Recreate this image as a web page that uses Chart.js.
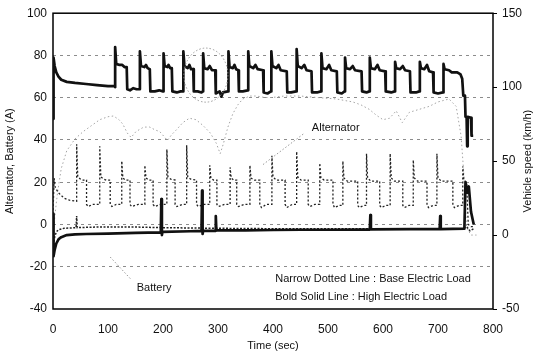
<!DOCTYPE html>
<html>
<head>
<meta charset="utf-8">
<script src="https://cdn.jsdelivr.net/npm/chart.js@4.4.1/dist/chart.umd.min.js"></script>
<style>
  html, body { margin: 0; padding: 0; background: #fff; }
  #wrap { width: 535px; height: 356px; }
</style>
</head>
<body>
<div id="wrap"><canvas id="chart" width="535" height="356"></canvas></div>
<script>
// time in sec, values in A (left axis) or km/h (right axis)

// alternator, high electric load (bold solid)
const altHigh = [
  [0,50],[1,79],[3,75],[6,72],[10,70],[15,68.5],[25,67.5],[40,67],[60,66.5],[80,66],[100,65.5],[112,65.5],
  [113,65],[113,84],[115,76],[121,75.5],[126,75.5],[130,74.5],[134,74.5],[135,64],[140,63.5],[146,64.5],[152,64],[157,64],
  [158,64],[158,82],[160,75],[166,74.5],[169,75.5],[172,74],[176,73.5],[177,63],[185,63],[193,63.5],[200,63],
  [201,63],[201,81],[203,75],[208,74.5],[210,75.5],[213,74],[216,74],[217,63],[225,62.5],[232,63],[236,63],
  [237,63],[237,82],[239,75],[245,74],[248,75.5],[251,73.5],[255,73.5],[256,63],[263,63],[270,62.5],[272,63],
  [273,63],[273,81],[275,74],[281,73.5],[285,75],[289,73],[295,73],[296,62],[303,63],[306,60.5],[309,62.5],[318,63],
  [319,63],[319,82],[321,74.5],[327,74],[330,75.5],[333,73.5],[337,73],[338,63],[345,63],[354,63.5],
  [355,63.5],[355,82],[357,75],[364,74],[368,75.5],[372,73.5],[382,73],[383,62.5],[390,62],[396,63],
  [397,63],[397,82],[399,75],[406,74],[410,75.5],[414,73],[425,72.5],[426,62.5],[433,62.5],[442,63],
  [443,63],[443,83],[445,75],[452,74],[457,75.5],[461,73],[470,72.5],[471,62.5],[480,62.5],[487,63],
  [488,63],[488,81],[490,74],[497,73.5],[502,75.5],[506,73],[516,72.5],[517,62.5],[525,62],[530,63],
  [531,63],[531,79],[533,74],[540,73.5],[545,75],[549,73],[561,72.5],[562,63],[570,62.5],[575,63],
  [576,63],[576,79],[578,74],[585,73.5],[590,75.5],[594,73],[604,72.5],[605,63],[615,62.5],[621,63],
  [622,63],[622,77],[624,74],[631,73.5],[636,75],[640,73],[649,72.5],[650,62.5],[660,62.5],[666,63],
  [667,63],[667,77],[669,74],[675,73.5],[680,75.5],[684,72.5],[691,72],[692,62.5],[700,62],[709,62.5],
  [710,62.5],[710,76],[712,73.5],[720,73],[725,72],[735,72],[741,71],[744,69],[746,61],[749,61],
  [750,51],[752,51],[753,37],[754,51],[760,50.5],[761,42],[764,42]
];

// alternator, base electric load (narrow dotted)
const altBase = [
  [0,5],[2,22],[4,17.5],[10,15],[20,12.5],[30,11.5],[42,11],
  [43,11],[43,38],[45,22.5],[50,21.5],[55,21],[61,21],[61,9.5],[64,8.5],[72,9.5],[84,9.5],
  [85,9.5],[85,37],[87,22.5],[92,21.5],[97,21],[104,21],[104,9.5],[107,8.5],[115,9.5],[124,9.5],
  [125,9.5],[125,30],[127,22],[132,21],[140,21],[140,9.5],[143,8.5],[155,9.5],[166,9.5],
  [167,9.5],[167,28],[169,22],[174,21],[182,21],[182,9.5],[185,8.5],[195,9.5],[206,9.5],
  [207,9.5],[207,35.5],[209,22.5],[214,21.5],[222,21],[222,9.5],[225,8.5],[235,9.5],[242,9.5],
  [243,9.5],[243,37.5],[245,22.5],[250,21.5],[261,21],[261,9.5],[264,8.5],[275,9.5],[284,9.5],
  [285,9.5],[285,28],[287,22],[292,21],[298,21],[298,9.5],[301,8.5],[312,9.5],[321,9.5],
  [322,9.5],[322,27],[324,22],[329,21],[334,21],[334,9.5],[337,8.5],[348,9.5],[357,9.5],
  [358,9.5],[358,28],[360,22],[366,21],[376,21],[376,9.5],[379,8],[388,9.5],[397,9.5],
  [398,9.5],[398,32.5],[400,22.5],[406,21],[422,21],[422,9.5],[425,8],[435,9.5],[442,9.5],
  [443,9.5],[443,34.5],[445,22.5],[451,21],[464,21],[464,9.5],[467,8.5],[476,9.5],[484,9.5],
  [485,9.5],[485,29],[487,22],[493,21],[509,21],[509,9.5],[512,8],[520,9],[526,9],
  [527,9],[527,30],[529,22],[535,20.5],[554,20.5],[554,9],[557,8],[565,9],[569,9],
  [570,9],[570,33.5],[572,22],[578,20.5],[594,20.5],[594,9],[597,8],[605,9],[612,9],
  [613,9],[613,33.5],[615,22],[621,20.5],[636,20.5],[636,9],[639,8],[647,9],[654,9],
  [655,9],[655,30.5],[657,22],[663,20.5],[680,20.5],[680,9],[683,8],[691,9],[697,9],
  [698,9],[698,33.5],[700,22],[706,20.5],[727,20.5],[727,9],[730,8],[738,9],[744,9],
  [745,9],[745,27.5],[747,21],[752,20],[755,0],[760,-1],[765,-1]
];

// battery, high electric load (bold solid)
const batHigh = [
  [0,5],[1,-15],[3,-12],[6,-9],[10,-7],[15,-6],[25,-5],[40,-4.7],[60,-4.5],[100,-4.3],[150,-4],
  [196,-3.7],[197,12],[198,-5],[199,-3.5],[250,-3.2],[270,-3],[271,16],[272,-4.5],[273,-3],
  [295,-3],[296,4],[297,-2.8],[350,-2.8],[400,-2.6],[450,-2.5],[500,-2.5],[560,-2.4],[576,-2.4],
  [577,4.5],[578,-2.3],[650,-2.2],[703,-2.2],[704,4],[705,-2.2],[748,-2],[750,20],[753,15],
  [756,18],[760,6],[765,0]
];

// battery, base electric load (narrow dotted)
const batBase = [
  [0,3],[1,-10],[3,-6],[6,-3.5],[10,-2.5],[20,-1.8],[42,-1.5],[43,4],[44,-1.5],[80,-1.2],
  [150,-1.2],[200,-1.5],[300,-1.8],[400,-2],[500,-2],[600,-2],[700,-2],[745,-2],[752,-1],
  [758,-3],[765,-2]
];

// vehicle speed, km/h (right axis)
const speed = [
  [0,0],[4,15],[8,28],[15,45],[25,57],[40,65],[55,70],[70,74],[85,78],[100,80],[110,80.5],
  [120,78],[127,75],[135,69],[142,66],[151,70],[165,73],[176,73],[186,71],[194,70],[208,64],
  [216,68],[224,71],[236,76],[248,79],[260,78],[273,74],[286,69],[297,62],[304,55],[310,62],
  [318,73],[327,82],[336,88],[345,92],[358,94],[370,94],[385,93],[398,93],[420,94],[450,94],
  [480,93],[515,92],[545,90],[560,88],[575,85],[588,81],[600,78],[612,79],[624,84],[635,76],
  [648,83],[666,85],[684,87],[700,90],[720,92],[733,87],[742,67],[747,41],[752,5],[760,0],[770,0]
];

const leftTicks = [-40, -20, 0, 20, 40, 60, 80, 100];
const rightTicks = [-50, 0, 50, 100, 150];
const timeTicks = [0, 100, 200, 300, 400, 500, 600, 700, 800];

const noteLines = ['Narrow Dotted Line : Base Electric Load', 'Bold Solid Line : High Electric Load'];

const toXY = arr => arr.map(p => ({ x: p[0], y: p[1] }));

Chart.defaults.font.family = "'Liberation Sans', Arial, sans-serif";
Chart.defaults.font.size = 12;
Chart.defaults.color = '#111';

// frame, annotations, right title
const extras = {
  id: 'extras',
  beforeDatasetsDraw(chart) {
    const { ctx, chartArea: a } = chart;
    ctx.save();
    ctx.strokeStyle = '#000';
    ctx.lineWidth = 1.5;
    ctx.strokeRect(a.left, a.top, a.right - a.left, a.bottom - a.top);
    ctx.restore();
  },
  afterDraw(chart) {
    const { ctx, chartArea: a } = chart;
    const x = chart.scales.x, y = chart.scales.y;
    ctx.save();
    // circled region
    ctx.strokeStyle = '#999';
    ctx.lineWidth = 1;
    ctx.setLineDash([1.5, 2]);
    const cx = x.getPixelForValue(278), cy = y.getPixelForValue(70.7);
    const rx = x.getPixelForValue(318) - cx, ry = cy - y.getPixelForValue(83.5);
    ctx.beginPath();
    ctx.ellipse(cx, cy, rx, ry, 0, 0, Math.PI * 2);
    ctx.stroke();
    // pointer lines
    ctx.beginPath();
    ctx.moveTo(x.getPixelForValue(104), y.getPixelForValue(-15.4));
    ctx.lineTo(x.getPixelForValue(143), y.getPixelForValue(-26.3));
    ctx.moveTo(x.getPixelForValue(455), y.getPixelForValue(42.8));
    ctx.lineTo(x.getPixelForValue(380), y.getPixelForValue(28));
    ctx.stroke();
    ctx.setLineDash([]);
    // labels
    ctx.fillStyle = '#111';
    ctx.font = "11px 'Liberation Sans', Arial, sans-serif";
    ctx.textBaseline = 'middle';
    ctx.textAlign = 'center';
    ctx.fillText('Alternator', x.getPixelForValue(514), y.getPixelForValue(45.6));
    ctx.fillText('Battery', x.getPixelForValue(184), y.getPixelForValue(-30));
    ctx.textAlign = 'left';
    ctx.fillText(noteLines[0], x.getPixelForValue(404), y.getPixelForValue(-25.8));
    ctx.fillText(noteLines[1], x.getPixelForValue(404), y.getPixelForValue(-34.3));
    // right axis title, reading upward
    ctx.translate(528, (a.top + a.bottom) / 2);
    ctx.rotate(-Math.PI / 2);
    ctx.textAlign = 'center';
    ctx.fillText('Vehicle speed (km/h)', 0, 0);
    ctx.restore();
  }
};

new Chart(document.getElementById('chart'), {
  type: 'line',
  data: {
    datasets: [
      { label: 'Alternator high', data: toXY(altHigh), borderColor: '#111', borderWidth: 2.7, borderJoinStyle: 'round', yAxisID: 'y' },
      { label: 'Battery high', data: toXY(batHigh), borderColor: '#111', borderWidth: 2.7, borderJoinStyle: 'round', yAxisID: 'y' },
      { label: 'Alternator base', data: toXY(altBase), borderColor: '#222', borderWidth: 1.3, borderDash: [2, 2], yAxisID: 'y' },
      { label: 'Battery base', data: toXY(batBase), borderColor: '#222', borderWidth: 1.5, borderDash: [2, 1.5], yAxisID: 'y' },
      { label: 'Vehicle speed', data: toXY(speed), borderColor: '#a5a5a5', borderWidth: 1, borderDash: [1.5, 2.5], yAxisID: 'y1' }
    ]
  },
  options: {
    responsive: false,
    animation: false,
    devicePixelRatio: 1,
    layout: { padding: { top: 13, left: 0, right: 0, bottom: 0 } },
    elements: { point: { radius: 0 }, line: { tension: 0, fill: false } },
    plugins: { legend: { display: false }, tooltip: { enabled: false } },
    scales: {
      x: {
        type: 'linear',
        min: 0, max: 800,
        afterBuildTicks: s => { s.ticks = timeTicks.map(v => ({ value: v })); },
        grid: { display: false, drawTicks: false },
        border: { display: false },
        ticks: { padding: 13, maxRotation: 0 },
        title: { display: true, text: 'Time (sec)', font: { size: 11 }, padding: { top: 0, bottom: 3 } },
        afterFit: s => { s.height = 47; }
      },
      y: {
        position: 'left',
        min: -40, max: 100,
        afterBuildTicks: s => { s.ticks = leftTicks.map(v => ({ value: v })); },
        grid: {
          drawTicks: false,
          lineWidth: 1,
          color: c => (c.tick.value === -40 || c.tick.value === 100) ? 'rgba(0,0,0,0)' : '#8c8c8c'
        },
        border: { display: false, dash: [3, 4] },
        ticks: { padding: 6 },
        title: { display: true, text: 'Alternator, Battery (A)', font: { size: 11 }, padding: { top: 3, bottom: 0 } },
        afterFit: s => { s.width = 53; }
      },
      y1: {
        position: 'right',
        min: -50, max: 150,
        afterBuildTicks: s => { s.ticks = rightTicks.map(v => ({ value: v })); },
        grid: { drawOnChartArea: false, drawTicks: true, tickLength: 4, color: '#000' },
        border: { display: false },
        ticks: { padding: 5 },
        afterFit: s => { s.width = 42; }
      }
    }
  },
  plugins: [extras]
});
</script>
</body>
</html>
